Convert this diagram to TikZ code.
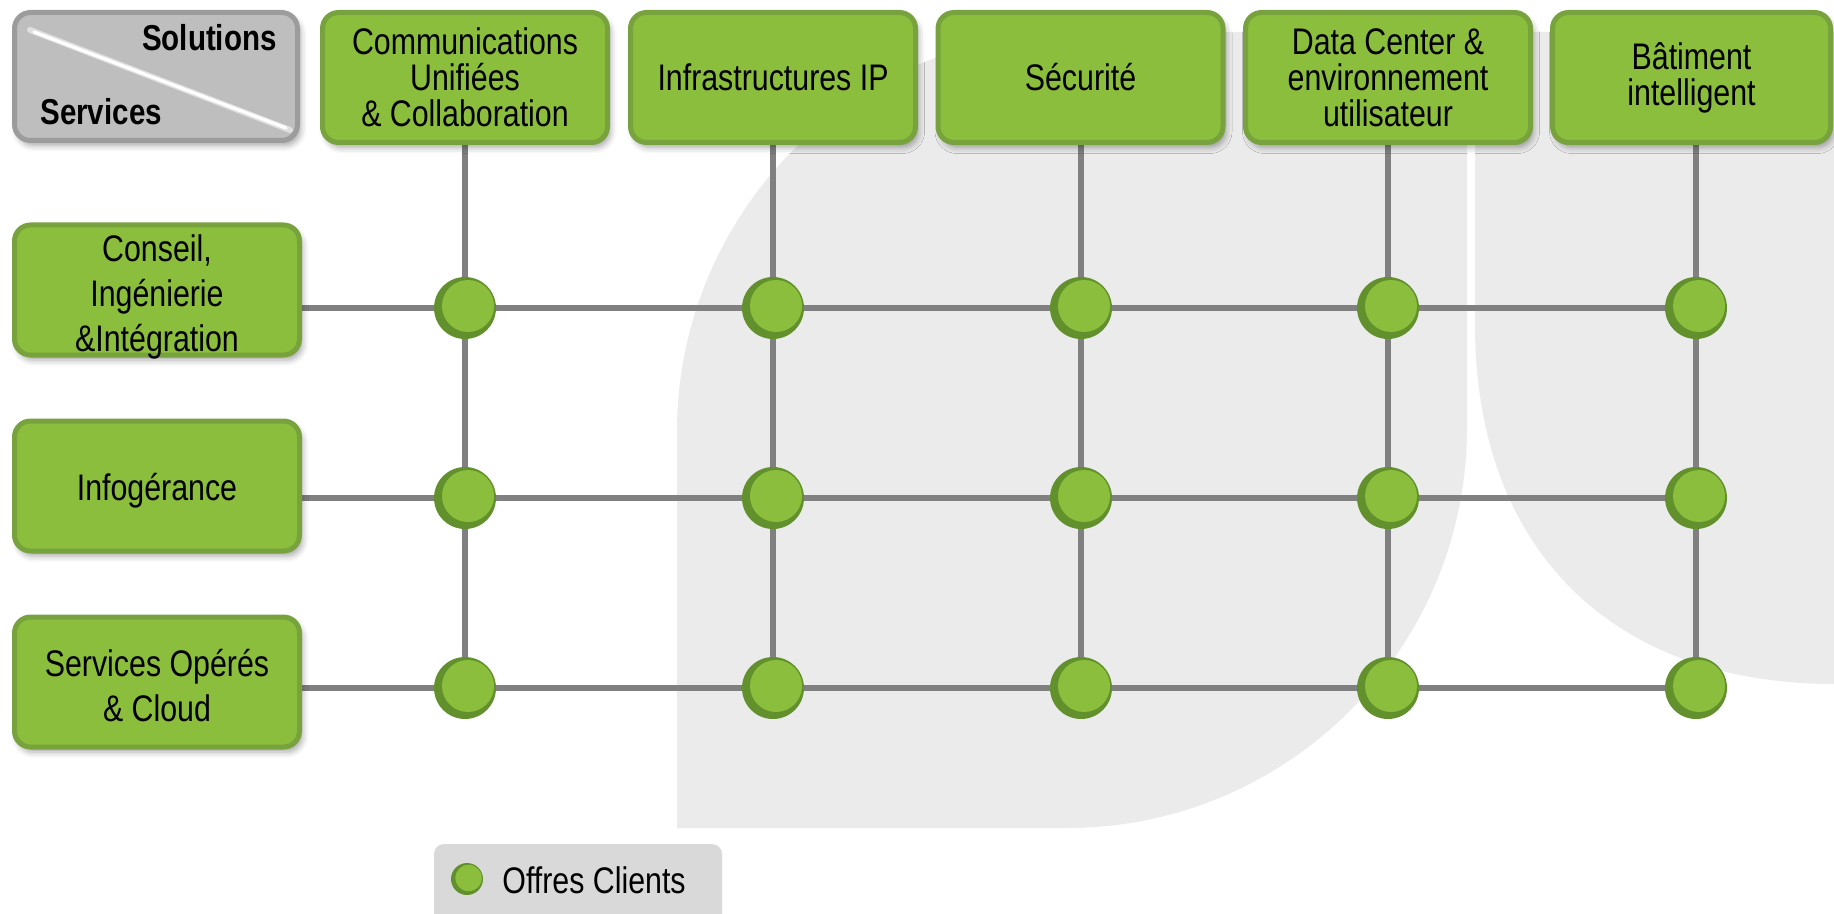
\documentclass[tikz,border=0pt]{standalone}
\usepackage{fontspec}
\setmainfont{Liberation Sans}[FakeStretch=0.82]
\usetikzlibrary{shadows,shadows.blur}
\definecolor{gfill}{HTML}{8BBE3C}
\definecolor{gedge}{HTML}{77A23E}
\definecolor{gdark}{HTML}{62902D}
\definecolor{wmark}{HTML}{EBEBEB}
\definecolor{wirecol}{HTML}{808080}
\definecolor{cornerfill}{HTML}{BEBEBE}
\definecolor{corneredge}{HTML}{9C9C9C}
\definecolor{legendfill}{HTML}{D9D9D9}
\pgfdeclarelayer{wires}
\pgfsetlayers{wires,main}
\begin{document}
\begin{tikzpicture}[x=0.5pt,y=-0.5pt,
  boxfont/.style={font=\fontsize{18.5pt}{18pt}\selectfont},
  softshadow/.style={blur shadow={shadow xshift=1.5pt, shadow yshift=-2.5pt, shadow opacity=35, shadow blur radius=3pt}},
  gbox/.style={draw=gedge, line width=2.5pt, fill=gfill, rounded corners=8pt,
    minimum width=142.5pt, minimum height=65pt, inner sep=0pt, align=center,
    boxfont, softshadow},
  rbox/.style={gbox},
  rtext/.style={align=center, inner sep=0pt, font=\fontsize{18.5pt}{22.5pt}\selectfont},
  cornerbox/.style={draw=corneredge, line width=2.5pt, fill=cornerfill, rounded corners=8pt,
    minimum width=141.5pt, minimum height=64pt, inner sep=0pt, softshadow},
  cornertext/.style={font=\fontsize{18pt}{18pt}\selectfont\bfseries, inner sep=0pt},
  bigdot/.style={circle, fill=gdark, minimum size=31pt, inner sep=0pt,
    path picture={\fill[gfill] ([xshift=1.5pt,yshift=1pt]path picture bounding box.center) circle[radius=13pt];}},
  smalldot/.style={circle, fill=gdark, minimum size=16pt, inner sep=0pt,
    path picture={\fill[gfill] ([xshift=0.8pt,yshift=0.5pt]path picture bounding box.center) circle[radius=6.6pt];}},
  wireline/.style={draw=wirecol, line width=3pt},
  legendbox/.style={fill=legendfill, rounded corners=5pt, minimum width=144pt, minimum height=40pt, inner sep=0pt}
]
\useasboundingbox (0,0) rectangle (1834,914);

% corner box
\node[cornerbox] (corner) at (156,76.5) {};
\draw[line width=3pt, white!75!gray, line cap=round] (30,30) -- (290,130);
\draw[line width=1.6pt, white, line cap=round] (34,32) -- (286,128);
\node[cornertext, anchor=base east] (soltxt) at (277,51) {Solutions};
\node[cornertext, anchor=base west] (servtxt) at (40,125) {Services};

% solution boxes
\node[gbox] (s1) at (465,77.5) {Communications\\Unifiées\\\& Collaboration};
\node[gbox] (s2) at (773,77.5) {Infrastructures IP};
\node[gbox] (s3) at (1080.5,77.5) {Sécurité};
\node[gbox] (s4) at (1388,77.5) {Data Center \&\\environnement\\utilisateur};
\node[gbox, minimum width=139pt] (s5) at (1691.5,77.5) {Bâtiment\\intelligent};

% service boxes
\node[rbox] (r1) at (157,290) {};
\node[rtext] (r1t) at (157,297) {Conseil,\\Ingénierie\\\&Intégration};
\node[rbox] (r2) at (157,486) {};
\node[rtext] (r2t) at (157,491) {Infogérance};
\node[rbox] (r3) at (157,682) {};
\node[rtext] (r3t) at (157,686) {Services Opérés\\\& Cloud};

% offers
\foreach \c/\x in {1/465,2/773,3/1081,4/1388,5/1696}{
  \foreach \r/\y in {1/308,2/498,3/688}{
    \node[bigdot] (n\r\c) at (\x,\y) {};
  }
}

\begin{pgfonlayer}{wires}
% background watermark shapes
\path[fill=wmark] (677,828) -- (677,432) arc[start angle=180, end angle=90, radius=200pt]
  -- (1467,32) -- (1467,428) arc[start angle=0, end angle=-90, radius=200pt] -- cycle;
\path[fill=wmark] (1475,32) -- (1475,325) .. controls (1475,548) and (1611,684) .. (1834,684)
  -- (1834,32) -- cycle;
\foreach \c in {1,...,5}{\draw[wireline] (n1\c |- s\c.south) -- (n3\c.center);}
\foreach \r in {1,2,3}{\draw[wireline] (r\r.east |- n\r1) -- (n\r5.center);}
\end{pgfonlayer}

% legend
\node[legendbox] (legend) at (578,884) {};
\node[smalldot] (ldot) at (467,879) {};
\node[boxfont, anchor=west, inner sep=0pt] (ltext) at (502,880) {Offres Clients};
\end{tikzpicture}
\end{document}
